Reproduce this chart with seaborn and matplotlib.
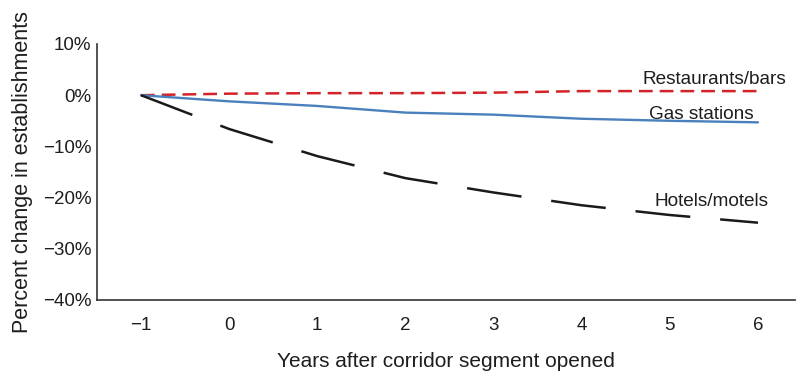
import numpy as np
import pandas as pd
import matplotlib
matplotlib.use("Agg")
import matplotlib.pyplot as plt
import seaborn as sns

years = [-1, 0, 1, 2, 3, 4, 5, 6]
restaurants = [0.0, 0.3, 0.4, 0.4, 0.5, 0.8, 0.8, 0.8]
gas = [0.0, -1.2, -2.1, -3.4, -3.8, -4.6, -5.0, -5.3]
hotels = [0.0, -6.6, -11.9, -16.2, -19.0, -21.5, -23.4, -24.9]
yticks = [10, 0, -10, -20, -30, -40]
series_names = ["Restaurants/bars", "Gas stations", "Hotels/motels"]

sns.set_style("white")
plt.rcParams['font.family'] = ['Liberation Sans', 'DejaVu Sans']

fig = plt.figure(figsize=(7.96, 3.72), dpi=100)
ax = fig.add_axes([97/796, 1-300/372, 698/796, 256/372])

red = "#d42229"
blue = "#4a80bd"
black = "#1a1a1a"
txt = "#1e1e1e"

l1 = sns.lineplot(x=years, y=restaurants, color=red, linewidth=1.8, ax=ax).lines[-1]
l1.set_dashes((5.5, 2.8))
l2 = sns.lineplot(x=years, y=gas, color=blue, linewidth=1.7, ax=ax).lines[-1]
l3 = sns.lineplot(x=years, y=hotels, color=black, linewidth=1.8, ax=ax).lines[-1]
l3.set_dashes((22, 12))

ax.set_xlim(-1.499, 6.42)
ax.set_ylim(-40, 10)
ax.set_xticks(years)
ax.set_xticklabels([("\u2212%d" % -v) if v < 0 else str(v) for v in years])
ax.set_yticks(yticks)
ax.set_yticklabels([("\u2212%d%%" % -v) if v < 0 else "%d%%" % v for v in yticks])
ax.tick_params(axis='both', length=0, labelsize=13.5, colors=txt)
ax.tick_params(axis='y', pad=4)
ax.tick_params(axis='x', pad=12)

for s in ["top", "right"]:
    ax.spines[s].set_visible(False)
for s in ["left", "bottom"]:
    ax.spines[s].set_color("#333333")
    ax.spines[s].set_linewidth(1.2)

ax.set_xlabel("Years after corridor segment opened", fontsize=15, color=txt, labelpad=13)
ax.set_ylabel("Percent change in establishments", fontsize=15.5, color=txt, labelpad=7)

ax.text(5.51, 3.1, series_names[0], fontsize=13.7, ha="center", va="center", color=txt)
ax.text(5.36, -3.7, series_names[1], fontsize=13.7, ha="center", va="center", color=txt)
ax.text(5.47, -20.7, series_names[2], fontsize=13.7, ha="center", va="center", color=txt)

fig.savefig("out.png", dpi=100)
